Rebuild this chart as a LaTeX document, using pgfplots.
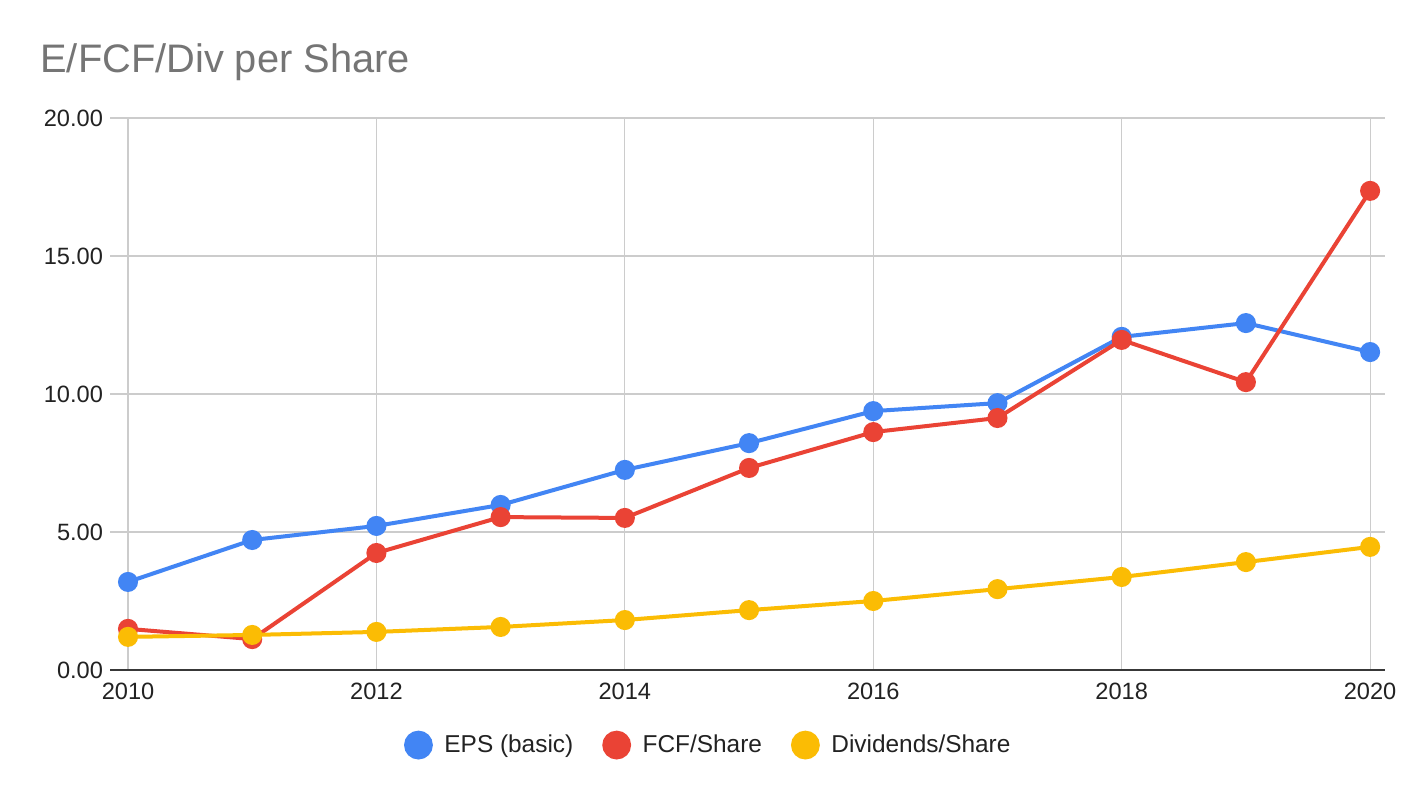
\documentclass[border=0pt]{standalone}
\usepackage{pgfplots}
\pgfplotsset{compat=1.18}
\usepackage{fontspec}
\setmainfont{Liberation Sans}
\definecolor{cblue}{HTML}{4285F4}
\definecolor{cred}{HTML}{EA4335}
\definecolor{cyel}{HTML}{FBBC04}
\definecolor{cgrid}{HTML}{CCCCCC}
\definecolor{ctitle}{HTML}{757575}
\definecolor{ctext}{HTML}{222222}
\begin{document}
\begin{tikzpicture}
\useasboundingbox[fill=white] (0,0) rectangle (712pt,399pt);
\node[anchor=base west, text=ctitle, font=\fontsize{19.9pt}{24pt}\selectfont, inner sep=0pt] at (20pt,362.5pt) {E/FCF/Div per Share};
\begin{axis}[
  at={(55pt,64pt)}, anchor=south west,
  scale only axis, width=637.5pt, height=276pt,
  xmin=2009.855, xmax=2020.12, ymin=0, ymax=20,
  xtick={2010,2012,2014,2016,2018,2020},
  ytick={0,5,10,15,20},
  xticklabel style={/pgf/number format/1000 sep={}},
  yticklabel style={/pgf/number format/.cd, fixed, fixed zerofill, precision=2},
  /pgf/number format/assume math mode=true,
  tick label style={font=\fontsize{11.8pt}{14pt}\selectfont, text=ctext},
  xtick style={draw=none}, ytick style={draw=none},
  grid=major, major grid style={cgrid, line width=0.6pt},
  axis line style={draw=none},
  xticklabel shift=3pt, yticklabel shift=0pt,
  legend columns=3,
  legend style={at={(0.47,-0.136)}, anchor=center, draw=none, fill=none,
    font=\fontsize{12.2pt}{14pt}\selectfont, text=ctext,
    /tikz/every even column/.append style={column sep=12.5pt}},
  legend cell align=left,
  legend image code/.code={\fill[#1] (0pt,0) circle (6.2pt); \path[draw=none,fill=none] (-6.2pt,0) -- (11pt,0);},
  every axis plot/.append style={line width=2pt, mark=*, mark size=4pt},
]
\draw[color=ctext!90, line width=1.3pt] (axis cs:2009.855,0) -- (axis cs:2020.12,0);
\addplot[color=cblue, mark options={fill=cblue, draw=cblue}] coordinates {
(2010,3.19) (2011,4.71) (2012,5.22) (2013,5.98) (2014,7.25) (2015,8.22)
(2016,9.38) (2017,9.67) (2018,12.07) (2019,12.57) (2020,11.52)};
\addlegendentry{EPS (basic)}
\addplot[color=cred, mark options={fill=cred, draw=cred}] coordinates {
(2010,1.49) (2011,1.12) (2012,4.24) (2013,5.54) (2014,5.51) (2015,7.32)
(2016,8.62) (2017,9.13) (2018,11.96) (2019,10.43) (2020,17.36)};
\addlegendentry{FCF/Share}
\addplot[color=cyel, mark options={fill=cyel, draw=cyel}] coordinates {
(2010,1.20) (2011,1.27) (2012,1.38) (2013,1.56) (2014,1.81) (2015,2.17)
(2016,2.50) (2017,2.93) (2018,3.37) (2019,3.91) (2020,4.46)};
\addlegendentry{Dividends/Share}
\end{axis}
\end{tikzpicture}
\end{document}
